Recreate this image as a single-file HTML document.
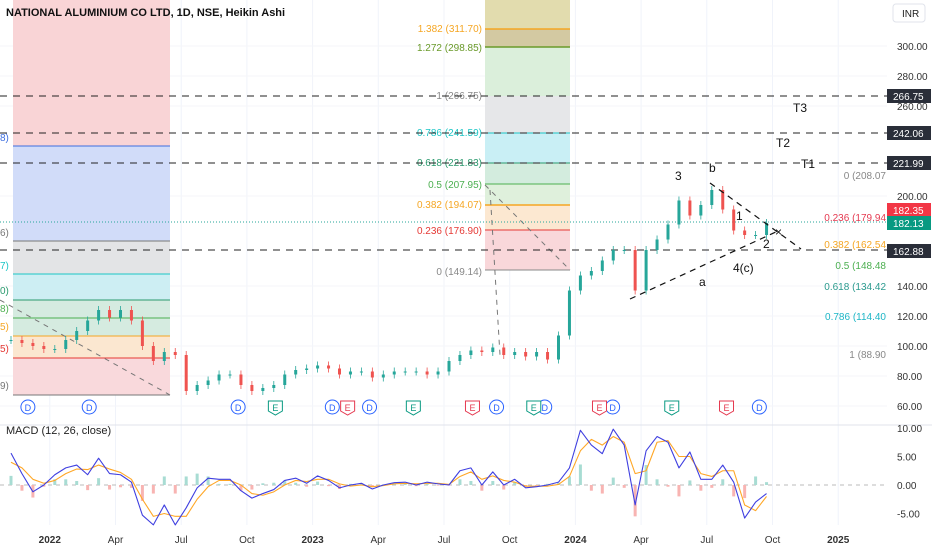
<!DOCTYPE html>
<html><head><meta charset="utf-8"><style>
body{margin:0;background:#fff;font-family:"Liberation Sans",sans-serif}
svg text{font-family:"Liberation Sans",sans-serif}
</style></head><body>
<svg id="c" width="932" height="550" xmlns="http://www.w3.org/2000/svg">
<rect width="932" height="550" fill="#fff"/>
<g id="grid"></g>
<g>
<rect x="13" y="0" width="157" height="146" fill="#f9d4d6"/>
<rect x="13" y="146" width="157" height="95" fill="#d1dcf9"/>
<rect x="13" y="241" width="157" height="33" fill="#e3e4e6"/>
<rect x="13" y="274" width="157" height="26" fill="#cdeef3"/>
<rect x="13" y="300" width="157" height="36" fill="#d5ebe0"/>
<rect x="13" y="336" width="157" height="22" fill="#fbe7d0"/>
<rect x="13" y="358" width="157" height="37" fill="#f9d9dc"/>
<line x1="13" x2="170" y1="146" y2="146" stroke="#3d6ee0"/>
<line x1="13" x2="170" y1="241" y2="241" stroke="#777"/>
<line x1="13" x2="170" y1="274" y2="274" stroke="#1cc6c6"/>
<line x1="13" x2="170" y1="300" y2="300" stroke="#2a9a6e"/>
<line x1="13" x2="170" y1="318" y2="318" stroke="#4caf50"/>
<line x1="13" x2="170" y1="336" y2="336" stroke="#f5a623"/>
<line x1="13" x2="170" y1="358" y2="358" stroke="#e53935"/>
<line x1="13" x2="170" y1="395" y2="395" stroke="#777"/>
<line x1="0" y1="300" x2="170" y2="395" stroke="#777" stroke-dasharray="5,5"/>
<text x="0" y="141" font-size="10" fill="#3d6ee0">8)</text>
<text x="0" y="236" font-size="10" fill="#777">6)</text>
<text x="0" y="269" font-size="10" fill="#1cc6c6">7)</text>
<text x="0" y="294" font-size="10" fill="#2a9a6e">0)</text>
<text x="0" y="312" font-size="10" fill="#4caf50">8)</text>
<text x="0" y="330" font-size="10" fill="#f5a623">5)</text>
<text x="0" y="352" font-size="10" fill="#e53935">5)</text>
<text x="0" y="389" font-size="10" fill="#777">9)</text>
</g>
<g>
<rect x="485" y="0" width="85" height="29" fill="#e2dcae"/>
<rect x="485" y="29" width="85" height="18" fill="#d3c9a2"/>
<rect x="485" y="47" width="85" height="49" fill="#dbefdb"/>
<rect x="485" y="96" width="85" height="37" fill="#e6e7e9"/>
<rect x="485" y="133" width="85" height="30" fill="#c9eff5"/>
<rect x="485" y="163" width="85" height="21" fill="#d3ecde"/>
<rect x="485" y="184" width="85" height="21" fill="#dff0dc"/>
<rect x="485" y="205" width="85" height="25" fill="#fce8d1"/>
<rect x="485" y="230" width="85" height="40" fill="#f9d7da"/>
<line x1="485" x2="570" y1="29" y2="29" stroke="#f5a623" stroke-width="1.5"/>
<line x1="485" x2="570" y1="47" y2="47" stroke="#6a9a2a" stroke-width="1.5"/>
<line x1="485" x2="570" y1="133" y2="133" stroke="#1cc6c6"/>
<line x1="485" x2="570" y1="163" y2="163" stroke="#2a9a6e"/>
<line x1="485" x2="570" y1="184" y2="184" stroke="#4caf50"/>
<line x1="485" x2="570" y1="205" y2="205" stroke="#f5a623" stroke-width="1.5"/>
<line x1="485" x2="570" y1="230" y2="230" stroke="#e53935"/>
<line x1="485" x2="570" y1="270" y2="270" stroke="#888"/>
<line x1="485" y1="185" x2="570" y2="270" stroke="#777" stroke-dasharray="5,5"/>
<line x1="490" y1="190" x2="500" y2="355" stroke="#777" stroke-dasharray="5,5"/>
<g font-size="10" text-anchor="end">
<text x="482" y="32" fill="#f5a623">1.382 (311.70)</text>
<text x="482" y="51" fill="#6a9a2a">1.272 (298.85)</text>
<text x="482" y="99" fill="#888">1 (266.75)</text>
<text x="482" y="136" fill="#1cc6c6">0.786 (241.59)</text>
<text x="482" y="166" fill="#2a9a6e">0.618 (221.83)</text>
<text x="482" y="188" fill="#4caf50">0.5 (207.95)</text>
<text x="482" y="208" fill="#f5a623">0.382 (194.07)</text>
<text x="482" y="234" fill="#e53935">0.236 (176.90)</text>
<text x="482" y="275" fill="#888">0 (149.14)</text>
</g></g>
<g stroke="#222" stroke-dasharray="7,6">
<line x1="0" x2="887" y1="96" y2="96"/><line x1="0" x2="887" y1="133" y2="133"/>
<line x1="0" x2="887" y1="163" y2="163"/><line x1="0" x2="887" y1="250" y2="250"/>
</g>
<line x1="0" x2="887" y1="222" y2="222" stroke="#26a69a" stroke-dasharray="1,2"/>
<g id="candles"></g>
<g stroke="#111" stroke-dasharray="6,5" stroke-width="1.2">
<line x1="630" y1="299" x2="778" y2="231"/><line x1="710" y1="183" x2="801" y2="249"/>
</g>
<g font-size="12" fill="#111">
<text x="675" y="180">3</text><text x="709" y="172">b</text><text x="736" y="220">1</text><text x="763" y="248">2</text>
<text x="733" y="272">4(c)</text><text x="699" y="286">a</text><text x="775" y="236">×</text>
<text x="793" y="112">T3</text><text x="776" y="147">T2</text><text x="801" y="168">T1</text>
</g>
<g font-size="10" text-anchor="end">
<text x="886" y="179" fill="#888">0 (208.07</text>
<text x="886" y="221" fill="#e53950">0.236 (179.94</text>
<text x="886" y="248" fill="#f5a623">0.382 (162.54</text>
<text x="886" y="269" fill="#4caf50">0.5 (148.48</text>
<text x="886" y="290" fill="#2a9a8e">0.618 (134.42</text>
<text x="886" y="320" fill="#1cb6c6">0.786 (114.40</text>
<text x="886" y="358" fill="#888">1 (88.90</text>
</g>
<g id="events"></g>
<line x1="0" x2="932" y1="425" y2="425" stroke="#e0e3eb"/>
<line x1="0" x2="887" y1="485" y2="485" stroke="#bbb" stroke-dasharray="4,4"/>
<g id="macd"></g>
<text x="6" y="434" font-size="11" fill="#222">MACD (12, 26, close)</text>
<text x="6" y="16" font-size="11" font-weight="bold" fill="#111">NATIONAL ALUMINIUM CO LTD, 1D, NSE, Heikin Ashi</text>
<rect x="893" y="4" width="32" height="18" rx="3" fill="#fff" stroke="#e0e3eb"/>
<text x="902" y="17" font-size="10" fill="#222">INR</text>
<g id="yaxis" font-size="10" fill="#333"></g>
<g font-size="10" fill="#fff">
<rect x="887" y="89" width="44" height="14" fill="#2a2e39"/><text x="893" y="100">266.75</text>
<rect x="887" y="126" width="44" height="14" fill="#2a2e39"/><text x="893" y="137">242.06</text>
<rect x="887" y="156" width="44" height="14" fill="#2a2e39"/><text x="893" y="167">221.99</text>
<rect x="887" y="203" width="44" height="14" fill="#f23645"/><text x="893" y="214">182.35</text>
<rect x="887" y="216" width="44" height="14" fill="#089981"/><text x="893" y="227">182.13</text>
<rect x="887" y="244" width="44" height="14" fill="#2a2e39"/><text x="893" y="255">162.88</text>
</g>
<g id="xaxis" font-size="10" fill="#333"></g>
</svg>
<script>
const prices=[104,102,100,98,98,104,110,117,124,119,124,117,100,90,96,94,70,74,77,81,81,74,70,72,74,81,84,85,87,85,81,83,83,79,81,83,83,83,81,83,90,94,97,96,99,94,96,93,96,91,107,137,147,150,157,164,164,137,164,171,181,197,187,194,204,191,177,174,174,182];
const macdLine=[5.6,2,-1.2,0,1.8,3,3.5,1.8,4.7,2.0,1.8,0.5,-5.3,-7,-3.5,-7,-4,-0.5,1.2,1.0,1.0,-1,-2.3,-1.5,-0.8,0.8,1.2,0.3,1.6,0.8,-0.5,0,0.3,-0.7,0,0.4,0.5,0,0.5,0.2,0,2.5,3,0,2.3,0,1,-0.5,-0.3,0,0.5,3,9.6,7,5.5,9.8,7,-3.5,6,8.5,7.5,3,5.8,1,1,3.5,0.5,-5.8,-3,-1.5];
const signalLine=[4,3,1,0.3,0.8,2,2.8,2.7,3.5,2.8,2.2,1,-2.5,-5.5,-5,-5.5,-5.5,-2.5,-0.3,0.8,0.8,0,-1.5,-1.8,-1.2,0,0.8,0.6,1,1,0.2,-0.2,0,-0.3,-0.1,0.2,0.3,0.2,0.3,0.3,0.1,1.5,2.3,1,1.6,0.8,0.5,-0.2,-0.2,-0.2,0.1,1.5,6,8,7,8.5,7.5,2,2.5,7.5,7.8,5,5,2,1.5,2.5,2.5,-3.5,-4.5,-2];
const priceTicks=[300,280,260,200,140,120,100,80,60];
const macdTicks=[10,5,0,-5];
const timeLabels=["2022","Apr","Jul","Oct","2023","Apr","Jul","Oct","2024","Apr","Jul","Oct","2025"];
const dEvents=[1.0,3.8,10.6,14.9,16.6,22.4,24.6,27.7,34.4];
const eEvents=[12.3,15.6,18.6,21.3,24.1,27.1,30.4,32.9];
const NS="http://www.w3.org/2000/svg";
const yP=p=>46+(300-p)*1.5, yM=v=>485-v*5.7;
const xM=m=>6+m*21.9;
const xI=i=>xM(i/2)+5;
function mk(t,a,p){const e=document.createElementNS(NS,t);for(const k in a)e.setAttribute(k,a[k]);p.appendChild(e);return e;}
const grid=document.getElementById('grid');
timeLabels.forEach((l,i)=>{const x=xM(2+i*3);
 const g=mk('line',{x1:x,x2:x,y1:0,y2:525,stroke:'#f0f3fa'},grid);
 
 
 const t=mk('text',{x:x,y:543,'text-anchor':'middle','font-weight':/^\d/.test(l)?'bold':'normal'},document.getElementById('xaxis'));
 t.textContent=l;
 
 });
priceTicks.forEach(p=>{const y=yP(p);mk('line',{x1:0,x2:887,y1:y,y2:y,stroke:'#f5f6f9'},grid);
 const t=mk('text',{x:897,y:y+4},document.getElementById('yaxis'));t.textContent=p.toFixed(2);
 
 });
macdTicks.forEach(v=>{const t=mk('text',{x:897,y:yM(v)+4},document.getElementById('yaxis'));t.textContent=v.toFixed(2);
 
 });
const cg=document.getElementById('candles');
prices.forEach((p,i)=>{const o=i?prices[i-1]:p;const up=p>=o;const c=up?'#26a69a':'#ef5350';
 const x=xI(i);const top=yP(Math.max(o,p)),bot=yP(Math.min(o,p));
 mk('line',{x1:x,x2:x,y1:top-4,y2:bot+4,stroke:c,'stroke-width':0.8},cg);
 const r=mk('rect',{x:x-1.5,y:top,width:3,height:Math.max(1,bot-top),fill:c},cg);
 
 });
const ev=document.getElementById('events');
dEvents.forEach(m=>{const c=mk('circle',{cx:xM(m),cy:407,r:7,fill:'#fff',stroke:'#2962ff'},ev);
 
 
 const t=mk('text',{x:xM(m),y:411,'text-anchor':'middle','font-size':9,fill:'#2962ff'},ev);t.textContent='D';});
eEvents.forEach((m,i)=>{const col=i%2?'#e53950':'#089981';const x=xM(m);
 const r=mk('path',{d:`M${x-7} ${401}h14v10l-7 4l-7-4z`,fill:'#fff',stroke:col},ev);
 
 
 const t=mk('text',{x:x,y:411,'text-anchor':'middle','font-size':9,fill:col},ev);t.textContent='E';});
const mg=document.getElementById('macd');
macdLine.forEach((v,i)=>{const h=v-signalLine[i];const y0=yM(0),y1=yM(h);
 const b=mk('rect',{x:xI(i)-1.5,y:Math.min(y0,y1),width:3,height:Math.abs(y1-y0),fill:h>=0?'#a8dcd3':'#f8b4b2'},mg);
 
 });
const pts=a=>a.map((v,i)=>xI(i)+','+yM(v)).join(' ');
const s=mk('polyline',{points:pts(signalLine),fill:'none',stroke:'#ffa726','stroke-width':1.1,'stroke-linejoin':'round'},mg);


const m=mk('polyline',{points:pts(macdLine),fill:'none',stroke:'#3f3fe0','stroke-width':1.1,'stroke-linejoin':'round'},mg);


</script>
</body></html>
